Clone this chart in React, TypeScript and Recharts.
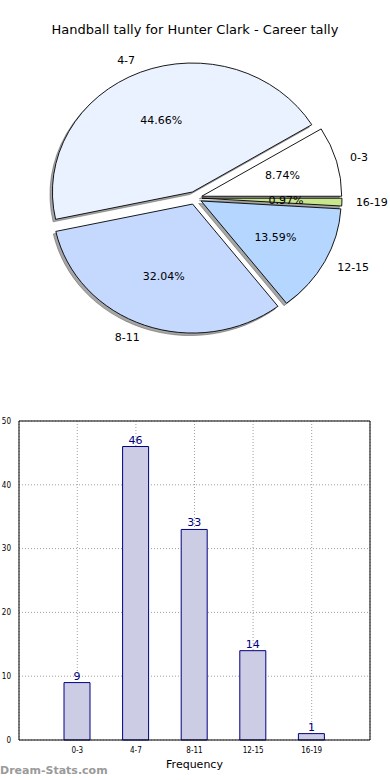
import { Bar, BarChart, CartesianGrid, LabelList, Pie, PieChart, XAxis, YAxis } from "recharts";

const categories = ["0-3", "4-7", "8-11", "12-15", "16-19"];
const tallies = [9, 46, 33, 14, 1];
const sliceColors = ["#ffffff", "#eaf2ff", "#c5d9ff", "#b4d6ff", "#c8e68c"];
const yTicks = [0, 10, 20, 30, 40, 50];

const ASPECT = 1.085;
const EXPLODE = 0.05;
const RAD = Math.PI / 180;
const FONT = "'DejaVu Sans', sans-serif";
const SMALL_FONT = "'DejaVu Sans Condensed', 'DejaVu Sans', sans-serif";

const pieRows = categories.map((name, i) => ({ name, value: tallies[i], fill: sliceColors[i] }));
const barRows = categories.map((name, i) => ({ name, value: tallies[i] }));

// elliptical, exploded wedge (matplotlib-style pie on a non-square axes)
function slicePath(cx: number, cy: number, r: number, a0: number, a1: number, mid: number) {
  const rx = r * ASPECT;
  const ox = cx + EXPLODE * rx * Math.cos(mid * RAD);
  const oy = cy - EXPLODE * r * Math.sin(mid * RAD);
  const x0 = ox + rx * Math.cos(a0 * RAD);
  const y0 = oy - r * Math.sin(a0 * RAD);
  const x1 = ox + rx * Math.cos(a1 * RAD);
  const y1 = oy - r * Math.sin(a1 * RAD);
  const large = Math.abs(a1 - a0) > 180 ? 1 : 0;
  return `M${ox},${oy} L${x0},${y0} A${rx},${r} 0 ${large} 0 ${x1},${y1} Z`;
}

const SliceShape = (props: any) => {
  const { cx, cy, outerRadius, startAngle, endAngle, midAngle, fill } = props;
  return (
    <path
      d={slicePath(cx, cy, outerRadius, startAngle, endAngle, midAngle)}
      fill={fill}
      stroke="#000"
      strokeWidth={0.9}
    />
  );
};

const ShadowShape = (props: any) => {
  const { cx, cy, outerRadius, startAngle, endAngle, midAngle } = props;
  return (
    <path
      d={slicePath(cx - 2.5, cy + 2.5, outerRadius, startAngle, endAngle, midAngle)}
      fill="#4d4d4d"
      fillOpacity={0.5}
      stroke="#4d4d4d"
      strokeOpacity={0.5}
      strokeWidth={0.9}
    />
  );
};

const renderPieLabel = (props: any) => {
  const { cx, cy, midAngle, outerRadius, percent, name } = props;
  const r = outerRadius;
  const rx = r * ASPECT;
  const c = Math.cos(midAngle * RAD);
  const s = Math.sin(midAngle * RAD);
  const ox = cx + EXPLODE * rx * c;
  const oy = cy - EXPLODE * r * s;
  return (
    <g>
      <text
        x={ox + 1.1 * rx * c}
        y={oy - 1.1 * r * s}
        textAnchor={c < 0 ? "end" : "start"}
        dominantBaseline="central"
        fontSize={11}
        fontFamily={FONT}
        fill="#000"
      >
        {name}
      </text>
      <text
        x={ox + 0.6 * rx * c}
        y={oy - 0.6 * r * s}
        textAnchor="middle"
        dominantBaseline="central"
        fontSize={11}
        fontFamily={FONT}
        fill="#000"
      >
        {(percent * 100).toFixed(2)}%
      </text>
    </g>
  );
};

export default function App() {
  return (
    <div style={{ position: "absolute", left: 0, top: 0, width: 390, height: 780, background: "#fff" }}>
      <div
        style={{
          position: "absolute",
          top: 22,
          left: 0,
          width: 390,
          textAlign: "center",
          fontFamily: FONT,
          fontSize: 13,
          color: "#000",
        }}
      >
        Handball tally for Hunter Clark - Career tally
      </div>

      <div style={{ position: "absolute", top: 0, left: 0 }}>
        <PieChart width={390} height={390} margin={{ top: 0, right: 0, bottom: 0, left: 0 }}>
          <Pie
            data={pieRows}
            dataKey="value"
            nameKey="name"
            cx={195}
            cy={198}
            outerRadius={129}
            startAngle={0}
            endAngle={360}
            shape={ShadowShape}
            label={false}
            labelLine={false}
            isAnimationActive={false}
          />
          <Pie
            data={pieRows}
            dataKey="value"
            nameKey="name"
            cx={195}
            cy={198}
            outerRadius={129}
            startAngle={0}
            endAngle={360}
            shape={SliceShape}
            label={renderPieLabel}
            labelLine={false}
            isAnimationActive={false}
          />
        </PieChart>
      </div>

      <div style={{ position: "absolute", top: 400, left: 0 }}>
        <BarChart width={390} height={380} data={barRows} margin={{ top: 20, right: 19, bottom: 20, left: 0 }}>
          <CartesianGrid stroke="#a0a0a0" strokeDasharray="1 2" />
          <XAxis
            dataKey="name"
            padding={{ left: 29, right: 29 }}
            axisLine={{ stroke: "#000" }}
            tickLine={false}
            tickMargin={1}
            tick={{ fontSize: 8, fill: "#000", fontFamily: SMALL_FONT }}
            height={20}
            label={{ value: "Frequency", position: "insideBottom", offset: -8, fontSize: 11, fill: "#000", fontFamily: FONT }}
          />
          <XAxis
            xAxisId="top"
            dataKey="name"
            orientation="top"
            height={1}
            tick={false}
            tickLine={false}
            axisLine={{ stroke: "#000" }}
          />
          <YAxis
            domain={[0, 50]}
            ticks={yTicks}
            width={19}
            axisLine={{ stroke: "#000" }}
            tickLine={false}
            tick={{ fontSize: 8, fill: "#000", fontFamily: SMALL_FONT }}
          />
          <YAxis
            yAxisId="right"
            orientation="right"
            width={1}
            domain={[0, 50]}
            tick={false}
            tickLine={false}
            axisLine={{ stroke: "#000" }}
          />
          <Bar dataKey="value" fill="#ccccE4" stroke="#000080" strokeWidth={1} barSize={26} isAnimationActive={false}>
            <LabelList dataKey="value" position="top" offset={3} fill="#000080" fontSize={11} fontFamily={FONT} />
          </Bar>
        </BarChart>
      </div>

      <div
        style={{
          position: "absolute",
          left: 0,
          top: 764,
          fontFamily: FONT,
          fontSize: 11,
          fontWeight: "bold",
          color: "#9a9a9a",
        }}
      >
        Dream-Stats.com
      </div>
    </div>
  );
}
